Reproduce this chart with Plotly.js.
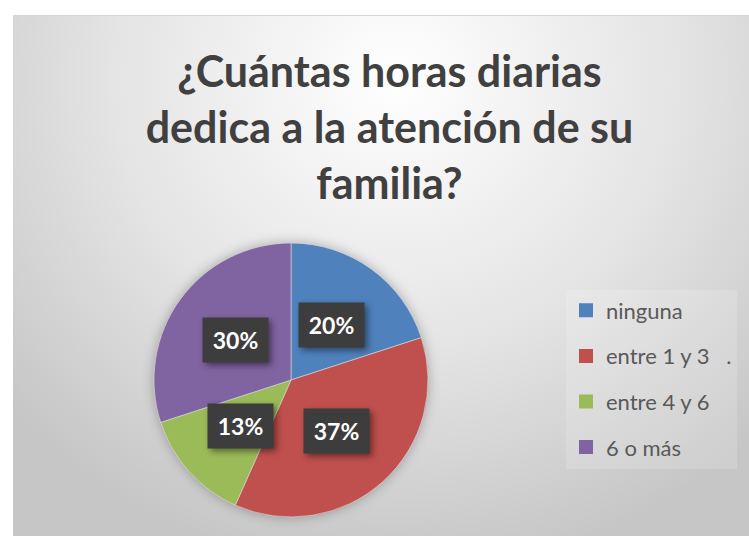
<!DOCTYPE html>
<html>
<head>
<meta charset="utf-8">
<script src="https://cdn.plot.ly/plotly-3.0.1.min.js"></script>
<style>
  body { margin: 0; background: #ffffff; }
  #bg {
    position: absolute; left: 13px; top: 15px; width: 736px; height: 521px;
    border-top: 1px solid #d4d4d4;
    background: radial-gradient(ellipse 70% 95% at 52% 12%, #ffffff 0%, #e4e4e4 55%, #c6c6c6 100%);
  }
  #chart { position: absolute; left: 0; top: 0; width: 749px; height: 536px; }
  .pielayer { filter: drop-shadow(0 0 6px rgba(0,0,0,0.28)); }
  g.annotation rect.bg { filter: drop-shadow(3px 3px 3px rgba(0,0,0,0.45)); }
</style>
</head>
<body>
<div id="bg"></div>
<div id="chart"></div>
<script>
const categories = ["ninguna", "entre 1 y 3   .", "entre 4 y 6", "6 o más"];
const counts = [6, 11, 4, 9];
const colors = ["#4f81bd", "#c0504d", "#9bbb59", "#8064a2"];
const titleLines = ["¿Cuántas horas diarias", "dedica a la atención de su", "familia?"];

const W = 749, H = 536;
// pie placement in pixels
const cx = 291, cy = 380, R = 137;
const domX = [(cx - R) / W, (cx + R) / W];
const domY = [(H - cy - R) / H, (H - cy + R) / H];

// percent labels in dark boxes, halfway along each slice's middle angle
const total = counts.reduce((s, v) => s + v, 0);
let acc = 0;
const labelBoxes = counts.map((v) => {
  const mid = (acc + v / 2) / total * 2 * Math.PI;
  acc += v;
  const px = cx + 0.5 * R * Math.sin(mid);
  const py = cy - 0.5 * R * Math.cos(mid);
  return {
    xref: "paper", yref: "paper",
    x: px / W, y: 1 - py / H,
    xanchor: "center", yanchor: "middle",
    text: Math.round(v / total * 100) + "%",
    showarrow: false,
    font: { family: "Lato", size: 23, color: "#ffffff", weight: "bold" },
    bgcolor: "#3d3d3d",
    width: 63, height: 42,
    align: "center", valign: "middle"
  };
});

// the pie itself; legend entries come from one empty trace per category
// so the entries can be spaced like the original
const traces = [{
  type: "pie",
  labels: categories,
  values: counts,
  sort: false,
  direction: "clockwise",
  rotation: 0,
  marker: { colors: colors, line: { color: "#dcdcdc", width: 0.6 } },
  textinfo: "none",
  hoverinfo: "label+percent",
  showlegend: false,
  domain: { x: domX, y: domY }
}];
categories.forEach((c, i) => {
  traces.push({
    type: "scatter", mode: "markers",
    x: [null], y: [null],
    name: c, legendgroup: "g" + i,
    marker: { symbol: "square", size: 14, color: colors[i] },
    hoverinfo: "skip"
  });
});

Plotly.newPlot("chart", traces, {
  width: W, height: H,
  margin: { l: 0, r: 0, t: 0, b: 0 },
  paper_bgcolor: "rgba(0,0,0,0)",
  plot_bgcolor: "rgba(0,0,0,0)",
  xaxis: { visible: false },
  yaxis: { visible: false },
  title: {
    text: titleLines.join("<br>"),
    font: { family: "Lato", size: 43, color: "#404040", weight: "bold" },
    x: 0.52, xanchor: "center",
    y: 1 - 87 / H, yanchor: "top"
  },
  showlegend: true,
  legend: {
    x: 566 / W, xanchor: "left",
    y: 1 - 379 / H, yanchor: "middle",
    traceorder: "grouped",
    tracegroupgap: 14,
    bgcolor: "rgba(255,255,255,0.16)",
    font: { family: "Lato", size: 22, color: "#595959" }
  },
  annotations: labelBoxes
}, { displayModeBar: false });
</script>
</body>
</html>
